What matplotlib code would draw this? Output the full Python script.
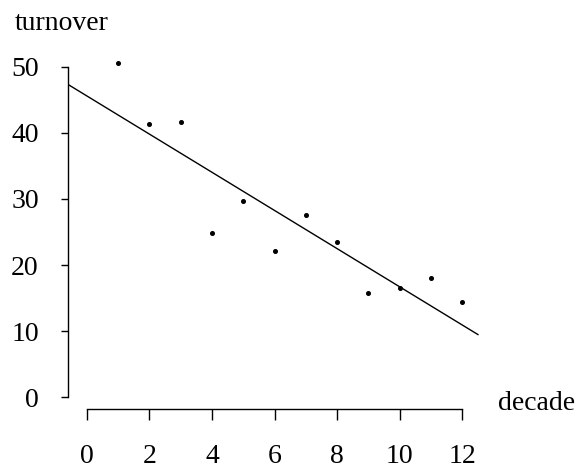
import matplotlib
matplotlib.use("Agg")
import matplotlib.pyplot as plt
import numpy as np

plt.rcParams['font.family'] = ['Liberation Serif', 'DejaVu Serif']

decade = [1, 2, 3, 4, 5, 6, 7, 8, 9, 10, 11, 12]
turnover = [50.6, 41.3, 41.6, 24.8, 29.7, 22.1, 27.6, 23.5, 15.8, 16.5, 18.0, 14.4]
fit_intercept = 45.6
fit_slope = -2.89
fit_range = [-0.6, 12.5]
xticks = [0, 2, 4, 6, 8, 10, 12]
yticks = [0, 10, 20, 30, 40, 50]

fig = plt.figure(figsize=(5.81, 4.74), dpi=100)
ax = fig.add_axes([0.117, 0.137, 0.711, 0.736])

ax.plot(decade, turnover, 'o', color='black', markersize=2.6)
fx = np.array(fit_range)
ax.plot(fx, fit_intercept + fit_slope * fx, color='black', lw=1.0)

ax.set_xlim(-0.6, 12.6)
ax.set_ylim(-1.8, 51)
for s in ['top', 'right']:
    ax.spines[s].set_visible(False)
ax.spines['left'].set_bounds(0, 50)
ax.spines['bottom'].set_bounds(0, 12)
for s in ['left', 'bottom']:
    ax.spines[s].set_linewidth(1.0)
ax.set_xticks(xticks)
ax.set_yticks(yticks)
ax.tick_params(axis='y', length=5, width=1, pad=16, labelsize=20)
ax.tick_params(axis='x', length=8, width=1, pad=17, labelsize=20)

fig.text(15/581, 1 - 30/474, 'turnover', fontsize=20, ha='left', va='baseline')
fig.text(498/581, 1 - 410/474, 'decade', fontsize=20, ha='left', va='baseline')

fig.savefig('out.png', dpi=100)
